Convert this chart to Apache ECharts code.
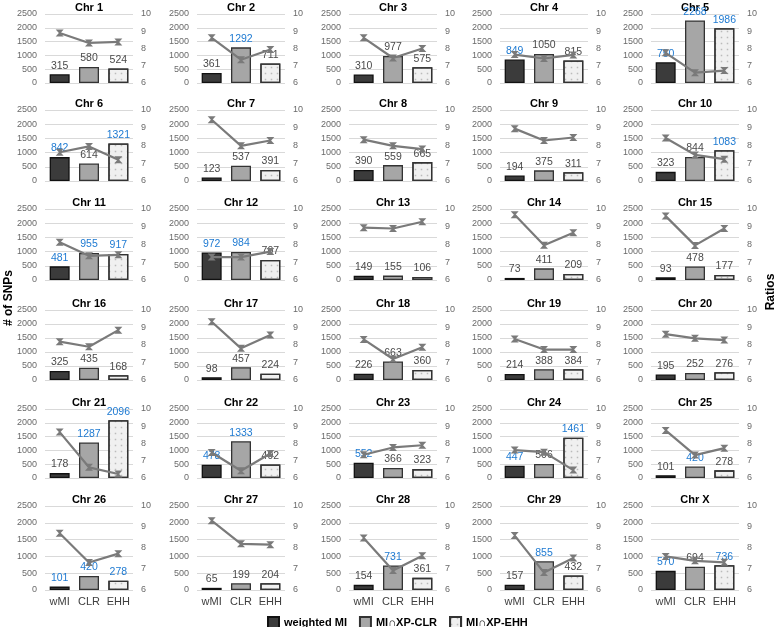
<!DOCTYPE html>
<html><head><meta charset="utf-8">
<script src="https://cdn.jsdelivr.net/npm/echarts@6/dist/echarts.min.js"></script>
<style>html,body{margin:0;padding:0;background:#fff}#c{width:778px;height:627px}</style>
</head><body><div id="c"></div>
<script>
const chrNames = ['Chr 1','Chr 2','Chr 3','Chr 4','Chr 5','Chr 6','Chr 7','Chr 8','Chr 9','Chr 10',
  'Chr 11','Chr 12','Chr 13','Chr 14','Chr 15','Chr 16','Chr 17','Chr 18','Chr 19','Chr 20',
  'Chr 21','Chr 22','Chr 23','Chr 24','Chr 25','Chr 26','Chr 27','Chr 28','Chr 29','Chr X'];
const categories = ['wMI','CLR','EHH'];
const seriesNames = ['weighted MI','MI\u2229XP-CLR','MI\u2229XP-EHH'];
const snpWMI = [315,361,310,849,750,842,123,390,194,323,481,972,149,73,93,325,98,226,214,195,178,478,552,447,101,101,65,154,157,570];
const snpCLR = [580,1292,977,1050,2268,614,537,559,375,844,955,984,155,411,478,435,457,663,388,252,1287,1333,366,506,420,420,199,731,855,694];
const snpEHH = [524,711,575,815,1986,1321,391,665,311,1083,917,707,106,209,177,168,224,360,384,276,2096,492,323,1461,278,278,204,361,432,736];
const ratioWMI = [8.9,8.62,8.62,7.65,7.75,7.62,9.45,8.33,8.95,8.42,8.13,7.29,8.95,9.68,9.6,8.19,9.33,8.32,8.34,8.62,8.66,7.48,7.35,7.62,8.76,8.7,9.3,8.48,8.59,7.6];
const ratioCLR = [8.32,7.35,7.45,7.42,6.6,7.95,7.98,7.98,8.28,7.47,7.36,7.29,8.9,7.96,7.95,7.9,7.81,7.2,7.74,8.38,6.62,6.42,7.77,7.5,7.33,7.31,8.2,6.93,6.83,7.39];
const ratioEHH = [8.38,7.94,8.0,7.63,6.72,7.2,8.28,7.8,8.45,7.23,7.42,7.6,9.28,8.66,8.9,8.85,8.57,7.87,7.74,8.28,6.23,7.42,7.9,6.46,7.73,7.73,8.16,7.63,7.52,7.32];
// 1 = label shown in blue
const blueWMI = [0,0,0,1,1,1,0,0,0,0,1,1,0,0,0,0,0,0,0,0,0,1,1,1,0,1,0,0,0,1];
const blueCLR = [0,1,0,0,1,0,0,0,0,0,1,1,0,0,0,0,0,0,0,0,1,1,0,0,1,1,0,1,1,0];
const blueEHH = [0,0,0,0,1,1,0,0,0,1,1,0,0,0,0,0,0,0,0,0,1,0,0,1,0,1,0,0,0,1];
const snpTicks = {min:0, max:2500, interval:500};
const ratioTicks = {min:6, max:10, interval:1};

const rowTop = [14,110,209,310,409,506];
const rowBottom = [83,181,280,380,478,590];
const colLeft = [45,197,349,500,651];
const gridW = 88;
const FONT = 'Liberation Sans, Arial, sans-serif';
const grids=[], xAxes=[], yAxes=[], series=[], graphics=[];
const barStyles = [
  {color:'#3b3b3b', borderColor:'#111', borderWidth:1.3},
  {color:'#a6a6a6', borderColor:'#333', borderWidth:1.3},
  {color:'#f0f0f0', borderColor:'#333', borderWidth:1.3,
   decal:{symbol:'rect', symbolSize:0.5, dashArrayX:3, dashArrayY:3, color:'rgba(0,0,0,0.22)'}}
];
const snpSets = [snpWMI, snpCLR, snpEHH];
const blueSets = [blueWMI, blueCLR, blueEHH];
const plain = v => String(v);
for (let i=0;i<chrNames.length;i++){
  const r=Math.floor(i/5), c=i%5;
  grids.push({left:colLeft[c], top:rowTop[r], width:gridW, height:rowBottom[r]-rowTop[r]});
  xAxes.push({type:'category', gridIndex:i, data:categories,
    axisLine:{show:false}, axisTick:{show:false},
    axisLabel:{show:r===5, interval:0, fontSize:11, color:'#404040', fontFamily:FONT, margin:6}});
  yAxes.push({type:'value', gridIndex:i, position:'left', ...snpTicks,
    axisLine:{show:false}, axisTick:{show:false},
    axisLabel:{fontSize:9, color:'#6a6a6a', fontFamily:FONT, margin:8, formatter:plain},
    splitLine:{lineStyle:{color:'#d9d9d9', width:1}}});
  yAxes.push({type:'value', gridIndex:i, position:'right', ...ratioTicks,
    axisLine:{show:false}, axisTick:{show:false},
    axisLabel:{fontSize:9, color:'#6a6a6a', fontFamily:FONT, margin:8, formatter:plain},
    splitLine:{show:false}});
  for (let k=0;k<3;k++){
    const data = categories.map((cat,j)=>({
      value: j===k ? snpSets[k][i] : '-',
      label: {color: blueSets[k][i] ? '#1e7ad2' : '#4a4a4a'}
    }));
    series.push({type:'bar', name:seriesNames[k], xAxisIndex:i, yAxisIndex:2*i,
      stack:'s'+i, data, barWidth:20, itemStyle:barStyles[k],
      label:{show:true, position:'top', distance:3, fontSize:10.5, fontFamily:FONT},
      emphasis:{disabled:true}, animation:false});
  }
  series.push({type:'line', name:'Ratio', xAxisIndex:i, yAxisIndex:2*i+1,
    data:[ratioWMI[i], ratioCLR[i], ratioEHH[i]],
    lineStyle:{color:'#7a7a7a', width:2.2}, itemStyle:{color:'#7a7a7a'},
    symbol:'path://M0,0 L10,0 L6,5 L10,10 L0,10 L4,5 Z', symbolSize:[8,7], showSymbol:true,
    z:5, emphasis:{disabled:true}, animation:false});
  graphics.push({type:'text', x:colLeft[c]+gridW/2, y:rowTop[r]-6,
    style:{text:chrNames[i], textAlign:'center', textVerticalAlign:'middle',
      font:'bold 11px '+FONT, fill:'#000'}});
}
graphics.push({type:'text', x:9, y:298, rotation:Math.PI/2,
  style:{text:'# of SNPs', textAlign:'center', textVerticalAlign:'middle', font:'bold 12px '+FONT, fill:'#000'}});
graphics.push({type:'text', x:771, y:292, rotation:Math.PI/2,
  style:{text:'Ratios', textAlign:'center', textVerticalAlign:'middle', font:'bold 12px '+FONT, fill:'#000'}});

const chart = echarts.init(document.getElementById('c'));
chart.setOption({
  animation:false,
  grid:grids, xAxis:xAxes, yAxis:yAxes, series,
  legend:{data:seriesNames, left:262, top:611, itemWidth:11, itemHeight:11, itemGap:12,
    icon:'rect', textStyle:{fontSize:11, fontWeight:'bold', color:'#000', fontFamily:FONT}, selectedMode:false},
  graphic:graphics
});
</script></body></html>
